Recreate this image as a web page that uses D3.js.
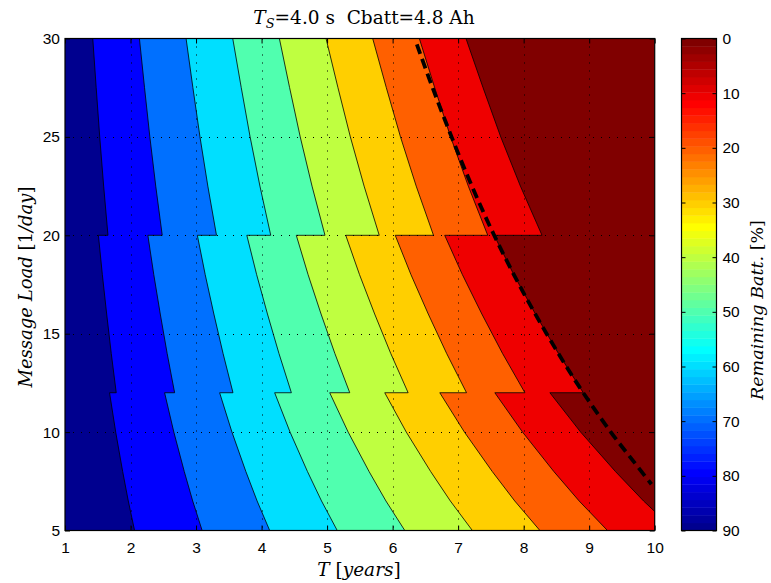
<!DOCTYPE html>
<html>
<meta charset="utf-8">
<script src="https://d3js.org/d3.v7.min.js"></script>
<style>
    body { margin: 0; background: #fff; }
    svg { display: block; }
</style>
<body>
<svg width="771" height="583"></svg>
<script>
    // contour levels of remaining battery [%], one boundary each
    const levels = [80, 70, 60, 50, 40, 30, 20, 10, 0];

    // years until the battery is empty (0 % contour), read per message load;
    // three pieces since the surface steps at 20 and 12 messages/day
    const loadHigh = [30, 27.5, 25, 22.5, 20];
    const lifeHigh = [7.12, 7.38, 7.65, 7.95, 8.28];
    const loadMid = [20, 18, 16, 14, 12];
    const lifeMid = [7.55, 7.85, 8.18, 8.53, 8.91];
    const loadLow = [12, 10, 8, 6.5, 5];
    const lifeLow = [8.40, 8.87, 9.40, 9.83, 10.31];

    // dashed reference curve
    const dashLoad = [29.7, 27.5, 25, 22.5, 20, 17.5, 15, 12.5, 10, 8.5, 7.35];
    const dashT = [6.37, 6.61, 6.90, 7.21, 7.55, 7.93, 8.35, 8.81, 9.33, 9.68, 9.95];

    const xTicks = d3.range(1, 11);
    const yTicks = [5, 10, 15, 20, 25, 30];
    const cbTicks = d3.range(0, 91, 10);

    let svg = d3.select("svg"),
        plot = { left: 65, right: 654.7, top: 38.5, bottom: 530.5 },
        cb = { left: 681.5, right: 716.5 };

    let x = d3.scaleLinear().domain([1, 10]).range([plot.left, plot.right]),
        y = d3.scaleLinear().domain([5, 30]).range([plot.bottom, plot.top]),
        cy = d3.scaleLinear().domain([0, 90]).range([plot.top, plot.bottom]);

    // matlab jet(64)
    function jetMap(m) {
        const n = Math.ceil(m / 4);
        const u = [].concat(d3.range(1, n + 1).map(i => i / n), d3.range(n - 1).map(() => 1), d3.range(n, 0, -1).map(i => i / n));
        const g0 = Math.ceil(n / 2) - (m % 4 === 1 ? 1 : 0);
        const J = d3.range(m).map(() => [0, 0, 0]);
        u.forEach((v, i) => {
            const g = g0 + i;
            [[g + n, 0], [g, 1], [g - n, 2]].forEach(([row, ch]) => { if (row >= 0 && row < m) J[row][ch] = v; });
        });
        return J.map(c => d3.rgb(c[0] * 255, c[1] * 255, c[2] * 255).formatHex());
    }
    const jet = jetMap(64);
    const regionColor = d3.range(10).map(i => jet[7 * i]);

    const pieces = [[loadHigh, lifeHigh], [loadMid, lifeMid], [loadLow, lifeLow]];
    function boundary(level) {
        return pieces.flatMap(([ls, ts]) => ls.map((l, i) => ({ l: l, t: ts[i] * (100 - level) / 100 })));
    }

    svg.append("clipPath").attr("id", "clip")
        .append("rect")
        .attr("x", plot.left).attr("y", plot.top)
        .attr("width", plot.right - plot.left).attr("height", plot.bottom - plot.top);

    let chart = svg.append("g").attr("clip-path", "url(#clip)");

    chart.append("rect")
        .attr("x", plot.left).attr("y", plot.top)
        .attr("width", plot.right - plot.left).attr("height", plot.bottom - plot.top)
        .style("fill", regionColor[9]);

    const area = d3.area().x0(plot.left - 2).x1(d => x(d.t)).y(d => y(d.l));
    const line = d3.line().x(d => x(d.t)).y(d => y(d.l));

    // paint from the right-most boundary back to the left
    for (let j = levels.length - 1; j >= 0; j--) {
        chart.append("path").attr("d", area(boundary(levels[j]))).style("fill", regionColor[j]);
    }
    chart.selectAll("path.contour")
        .data(levels)
        .enter().append("path")
        .attr("class", "contour")
        .attr("d", L => line(boundary(L)))
        .style("fill", "none").style("stroke", "#000").style("stroke-width", 0.8);

    // dotted grid
    let grid = chart.append("g").style("stroke", "#000").style("stroke-width", 1).style("stroke-dasharray", "1,7");
    grid.selectAll("line.gx").data(xTicks.slice(1, -1)).enter().append("line")
        .attr("x1", d => Math.round(x(d)) + 0.5).attr("x2", d => Math.round(x(d)) + 0.5)
        .attr("y1", plot.top).attr("y2", plot.bottom);
    grid.selectAll("line.gy").data(yTicks.slice(1, -1)).enter().append("line")
        .attr("y1", d => Math.round(y(d)) + 0.5).attr("y2", d => Math.round(y(d)) + 0.5)
        .attr("x1", plot.left).attr("x2", plot.right);

    const dashLine = d3.line().curve(d3.curveCatmullRom).x(d => x(d[1])).y(d => y(d[0]));
    chart.append("path")
        .attr("d", dashLine(dashLoad.map((l, i) => [l, dashT[i]])))
        .style("fill", "none").style("stroke", "#000").style("stroke-width", 3.8)
        .style("stroke-dasharray", "10,5.5");

    // axes, ticks inward on all sides
    const tickFont = g => g.attr("font-family", "'Liberation Sans', Arial, sans-serif").attr("font-size", 15.5)
        .call(g => g.select(".domain").remove())
        .call(g => g.selectAll("text").attr("fill", "#000"));

    svg.append("g").attr("transform", `translate(0,${plot.bottom})`)
        .call(d3.axisBottom(x).tickValues(xTicks).tickSize(-5).tickPadding(11).tickFormat(d3.format("d")))
        .call(tickFont);
    svg.append("g").attr("transform", `translate(0,${plot.top})`)
        .call(d3.axisTop(x).tickValues(xTicks).tickSize(-5).tickFormat(""))
        .call(tickFont);
    svg.append("g").attr("transform", `translate(${plot.left},0)`)
        .call(d3.axisLeft(y).tickValues(yTicks).tickSize(-5).tickPadding(5).tickFormat(d3.format("d")))
        .call(tickFont);
    svg.append("g").attr("transform", `translate(${plot.right},0)`)
        .call(d3.axisRight(y).tickValues(yTicks).tickSize(-5).tickFormat(""))
        .call(tickFont);

    svg.append("rect")
        .attr("x", plot.left).attr("y", plot.top)
        .attr("width", plot.right - plot.left).attr("height", plot.bottom - plot.top)
        .style("fill", "none").style("stroke", "#000").style("stroke-width", 1.2);

    // colorbar, 0 at the top
    const step = 90 / jet.length;
    svg.append("g").selectAll("rect")
        .data(jet)
        .enter().append("rect")
        .attr("x", cb.left).attr("width", cb.right - cb.left)
        .attr("y", (c, k) => cy(90 - (k + 1) * step))
        .attr("height", cy(step) - cy(0) + 0.4)
        .style("fill", c => c);

    svg.append("g").attr("transform", `translate(${cb.right},0)`)
        .call(d3.axisRight(cy).tickValues(cbTicks).tickSize(-4).tickPadding(6).tickFormat(d3.format("d")))
        .call(tickFont)
        .call(g => g.selectAll("text").attr("text-anchor", "start"));
    svg.append("g").attr("transform", `translate(${cb.left},0)`)
        .call(d3.axisLeft(cy).tickValues(cbTicks).tickSize(-4).tickFormat(""))
        .call(tickFont);
    svg.append("rect")
        .attr("x", cb.left).attr("y", plot.top)
        .attr("width", cb.right - cb.left).attr("height", plot.bottom - plot.top)
        .style("fill", "none").style("stroke", "#000").style("stroke-width", 1.2);

    // labels (latex-style: italic math)
    const serif = "'DejaVu Serif', 'Liberation Serif', serif";
    function mathText(g, parts) {
        parts.forEach(p => g.append("tspan").text(p[0]).style("font-style", p[1] ? "italic" : "normal"));
        return g;
    }

    let title = svg.append("text").attr("x", 364).attr("y", 24).attr("text-anchor", "middle")
        .attr("font-family", serif).attr("font-size", 18.5).attr("xml:space", "preserve");
    title.append("tspan").text("T").style("font-style", "italic");
    title.append("tspan").text("S").style("font-style", "italic").attr("font-size", 13).attr("dy", 4);
    title.append("tspan").text("=4.0 s  Cbatt=4.8 Ah").attr("dy", -4);

    mathText(svg.append("text").attr("x", 359).attr("y", 576).attr("text-anchor", "middle")
        .attr("font-family", serif).attr("font-size", 18.5).attr("xml:space", "preserve"),
        [["T", 1], [" [", 0], ["years", 1], ["]", 0]]);

    mathText(svg.append("text").attr("transform", "translate(32,287) rotate(-90)").attr("text-anchor", "middle")
        .attr("font-family", serif).attr("font-size", 18).attr("xml:space", "preserve"),
        [["Message Load", 1], [" [", 0], ["1", 0], ["/day", 1], ["]", 0]]);

    mathText(svg.append("text").attr("transform", "translate(763,310) rotate(-90)").attr("text-anchor", "middle")
        .attr("font-family", serif).attr("font-size", 17.5).attr("xml:space", "preserve"),
        [["Remaining Batt.", 1], [" [%]", 0]]);
</script>
</body>
</html>
